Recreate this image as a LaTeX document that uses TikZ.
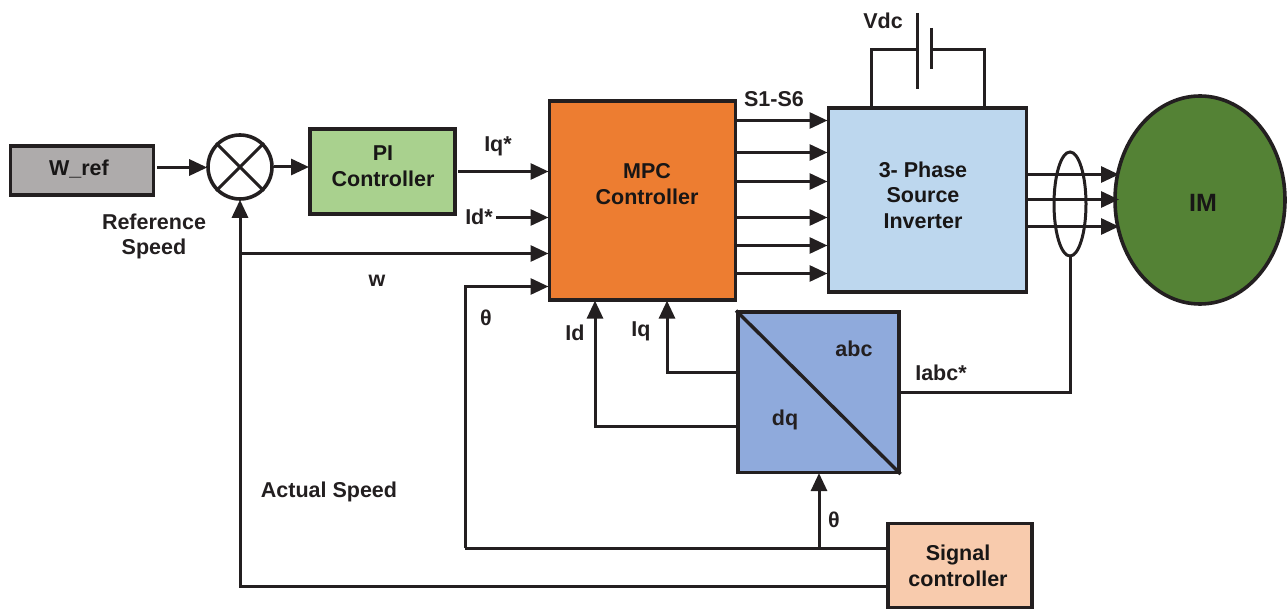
\documentclass[tikz,border=0pt]{standalone}
\usepackage{fontspec}
\setmainfont{Liberation Sans}
\usetikzlibrary{arrows.meta,shapes.geometric}
\definecolor{lineK}{HTML}{231F20}
\tikzset{
  x=1pt,y=-1pt,
  box/.style={draw=lineK,line width=3.6pt,anchor=north west,inner sep=0pt},
  boxtxt/.style={font=\bfseries\fontsize{21.5}{25.5}\selectfont,text=lineK!70!black,inner sep=0pt,align=center},
  lbl/.style={font=\bfseries\fontsize{21.5}{25}\selectfont,text=lineK,inner sep=0pt,align=center},
  wire/.style={draw=lineK,line width=3pt},
  arr/.style={wire,-{Triangle[length=18pt,width=16pt]},shorten >=-1pt}
}
\begin{document}
\begin{tikzpicture}
\useasboundingbox (0,0) rectangle (1287,609);
% boxes
\node[box,fill={rgb,255:red,174;green,171;blue,171},minimum width=143pt,minimum height=49pt] (wref) at (8.5,144) {};
\node[box,fill={rgb,255:red,169;green,209;blue,142},minimum width=145pt,minimum height=85pt] (pi) at (308,127.5) {};
\node[box,fill={rgb,255:red,237;green,125;blue,49},minimum width=186pt,minimum height=199pt] (mpc) at (547.5,99) {};
\node[box,fill={rgb,255:red,189;green,215;blue,238},minimum width=198pt,minimum height=184pt] (inv) at (826.5,106.5) {};
\node[draw=lineK,line width=3.6pt,ellipse,fill={rgb,255:red,84;green,130;blue,53},minimum width=170pt,minimum height=208pt,inner sep=0pt] (im) at (1200,200) {};
\node[box,fill={rgb,255:red,143;green,170;blue,220},minimum width=161pt,minimum height=160pt] (conv) at (736,310.5) {};
\node[box,fill={rgb,255:red,248;green,203;blue,173},minimum width=144pt,minimum height=84pt] (sig) at (886,521.5) {};
% box texts
\node[boxtxt] (twref) at (79,169) {W\_ref};
\node[boxtxt] (tpi) at (383,166) {PI\\Controller};
\node[boxtxt] (tmpc) at (647,184) {MPC\\Controller};
\node[boxtxt] (tinv) at (923,195) {3- Phase\\Source\\Inverter};
\node[boxtxt] (tsig) at (958,566) {Signal\\controller};
\node[boxtxt,font=\bfseries\fontsize{25}{30}\selectfont] (tim) at (1203,203) {IM};
% summing junction
\node[draw=lineK,line width=3.6pt,circle,minimum size=64pt,inner sep=0pt,fill=white] (sum) at (240,167) {};
\draw[wire] (sum.north west) -- (sum.south east);
\draw[wire] (sum.north east) -- (sum.south west);
% converter diagonal
\draw[wire,line width=3.4pt] (conv.north west) -- (conv.south east);
\node[lbl] (tabc) at (854,349) {abc};
\node[lbl] (tdq) at (785,420) {dq};
% inputs
\coordinate (w0) at (157,167.5);
\draw[arr] (w0) -- (w0 -| sum.west);
\draw[arr] (sum.east) -- (sum.east -| pi.west);
\coordinate (iqs) at (458,171.5);
\draw[arr] (iqs) -- (mpc.west |- iqs);
\coordinate (ids) at (496,217.5);
\draw[arr] (ids) -- (mpc.west |- ids);
\coordinate (wj) at (240,253.5);
\draw[arr] (wj) -- (mpc.west |- wj);
\coordinate (thc) at (465,286.5);
\coordinate (thb) at (465,548);
\draw[arr] (thb) -- (thc) -- (mpc.west |- thc);
% gate signals
\foreach \yy in {120.5,152.5,181.5,217.5,245.5,273.5}{
  \draw[arr] (mpc.east |- 0,\yy) -- (inv.west |- 0,\yy);
}
% motor feeds
\foreach \yy in {174.5,199.5,226.5}{
  \draw[arr] (inv.east |- 0,\yy) -- (1118,\yy);
}
% battery
\coordinate (bl) at (871,107);
\coordinate (br) at (984,107);
\draw[wire] (bl) -- (871,50) -- (916,50);
\draw[wire] (br) -- (984,50) -- (931,50);
\draw[wire] (917,13) -- (917,89);
\draw[wire] (931,28) -- (931,69);
% current sensor
\node[draw=lineK,line width=3pt,ellipse,minimum width=32pt,minimum height=104pt,inner sep=0pt] (ring) at (1070,204) {};
\draw[wire] (ring.south) -- (1070,392) -- (conv.east |- 0,392);
% conv outputs
\draw[arr] (conv.west |- 0,372) -- (667,372) -- (667,0 |- mpc.south);
\draw[arr] (conv.west |- 0,426) -- (595,426) -- (595,0 |- mpc.south);
% signal controller
\draw[wire] (sig.west |- 0,548) -- (thb);
\draw[arr] (819,548) -- (819,0 |- conv.south);
\draw[arr] (sig.west |- 0,586) -- (240,586) -- (sum.south);
% labels
\node[lbl] (l1) at (154,236) {Reference\\Speed};
\node[lbl] (l2) at (498,146) {Iq*};
\node[lbl] (l3) at (479,217) {Id*};
\node[lbl] (l4) at (377,281) {w};
\node[lbl] (l5) at (486,318) {θ};
\node[lbl] (l6) at (575,333) {Id};
\node[lbl] (l7) at (641,331) {Iq};
\node[lbl] (l8) at (774,99) {S1-S6};
\node[lbl] (l9) at (883,21) {Vdc};
\node[lbl] (l10) at (941,373) {Iabc*};
\node[lbl] (l11) at (834,520) {θ};
\node[lbl] (l12) at (329,492) {Actual Speed};
\end{tikzpicture}
\end{document}
